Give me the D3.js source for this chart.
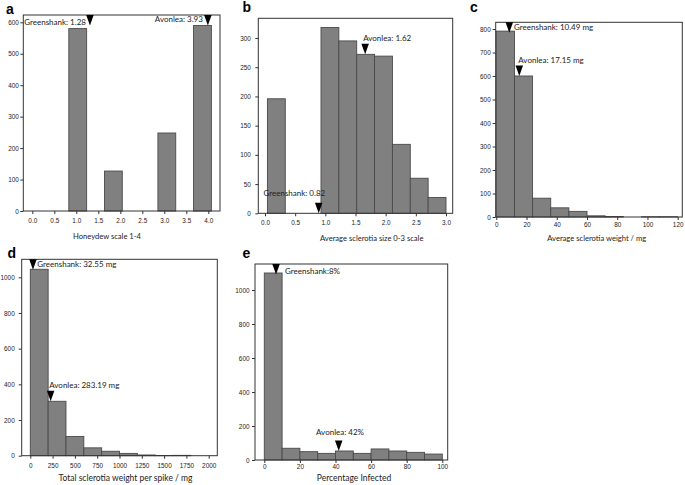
<!DOCTYPE html>
<html><head><meta charset="utf-8">
<script src="https://cdn.jsdelivr.net/npm/d3@7"></script>
<style>body{margin:0;background:#fff}</style></head>
<body>
<svg id="chart" width="685" height="485"></svg>
<script>
// ---------------- DATA ----------------
const panelLetters = ["a", "b", "c", "d", "e"];
const xTitles = [
  "Honeydew scale 1-4",
  "Average sclerotia size 0-3 scale",
  "Average sclerotia weight / mg",
  "Total sclerotia weight per spike / mg",
  "Percentage Infected"
];
// histogram bins (start of first bin, bin width) and counts
const binStarts = [0.02, 0.04, 0, 0, 0];
const binWidths = [0.405, 0.296, 12, 200, 10];
const countsA = [0, 0, 580, 0, 127, 0, 0, 248, 0, 590];
const countsB = [196, 0, 0, 318, 295, 272, 269, 118, 60, 27];
const countsC = [791, 600, 80, 39, 24, 5, 2, 0, 1, 1];
const countsD = [1045, 305, 108, 44, 25, 13, 4, 1, 2, 0];
const countsE = [1100, 69, 49, 39, 53, 39, 65, 53, 45, 35];
// ticks
const xTicksA = [0, 0.5, 1, 1.5, 2, 2.5, 3, 3.5, 4];
const xTicksB = [0, 0.5, 1, 1.5, 2, 2.5, 3];
const xTicksC = [0, 20, 40, 60, 80, 100, 120];
const xTicksD = [0, 250, 500, 750, 1000, 1250, 1500, 1750, 2000];
const xTicksE = [0, 20, 40, 60, 80, 100];
const yTicksA = [0, 100, 200, 300, 400, 500, 600];
const yTicksB = [0, 50, 100, 150, 200, 250, 300];
const yTicksC = [0, 100, 200, 300, 400, 500, 600, 700, 800];
const yTicksD = [0, 200, 400, 600, 800, 1000];
const yTicksE = [0, 200, 400, 600, 800, 1000];
// cultivar markers
const greenshankLabels = ["Greenshank: 1.28", "Greenshank: 0.82", "Greenshank: 10.49 mg", "Greenshank: 32.55 mg", "Greenshank:8%"];
const avonleaLabels = ["Avonlea: 3.93", "Avonlea: 1.62", "Avonlea: 17.15 mg", "Avonlea: 283.19 mg", "Avonlea: 42%"];
const greenshankPos = [1.31, 0.89, 8.6, 30, 6.6];
const avonleaPos = [3.99, 1.66, 15.2, 228, 41.8];

// ---------------- LAYOUT ----------------
const layouts = [
  {frame:{l:23.3,r:220,t:15,b:211}, xd:[0,4], xr:[32.3,208.3], yd:[0,600], yr:[211,22.3],
   xPad:8.5, yPad:4.5, fmt:d3.format(".1f"),
   letter:[6,13.5], title:[107,238.5,7.6],
   g:{mode:"top", anchor:"end", dx:-4, dy:10}, a:{mode:"top", anchor:"end", dx:-5, dy:6.5}},
  {frame:{l:258.3,r:452.7,t:18.3,b:213.3}, xd:[0,3], xr:[265,446], yd:[0,300], yr:[213.3,38],
   xPad:8.2, yPad:7.5, fmt:d3.format(".1f"),
   letter:[242.5,12.3], title:[371.7,240.5,7.6],
   g:{mode:"bar", anchor:"end", dx:6.5, dy:-6.5}, a:{mode:"bar", anchor:"start", dx:-2, dy:-2.5}},
  {frame:{l:495.7,r:682.3,t:22.3,b:217}, xd:[0,120], xr:[496.3,677.7], yd:[0,800], yr:[217,29],
   xPad:6, yPad:5, fmt:d3.format("d"),
   letter:[470,12.3], title:[596.7,241,7.6],
   g:{mode:"top", anchor:"start", dx:4.7, dy:8}, a:{mode:"bar", anchor:"start", dx:-1, dy:-2.5}},
  {frame:{l:21.7,r:217.3,t:259.3,b:455.7}, xd:[0,2000], xr:[30.3,208.7], yd:[0,1000], yr:[455.7,277.3],
   xPad:9, yPad:7, fmt:d3.format("d"),
   letter:[7.5,258.3], title:[125.5,481,8.5],
   g:{mode:"top", anchor:"start", dx:4.3, dy:8}, a:{mode:"bar", anchor:"start", dx:-1.4, dy:-3}},
  {frame:{l:255,r:447.7,t:264,b:460}, xd:[0,100], xr:[264.3,442.3], yd:[0,1000], yr:[460,290],
   xPad:5, yPad:5.5, fmt:d3.format("d"),
   letter:[242.5,258.3], title:[354,481,8.5],
   g:{mode:"top", anchor:"start", dx:9, dy:10}, a:{mode:"bar", anchor:"middle", dx:1.3, dy:-5.5}}
];
const allCounts = [countsA, countsB, countsC, countsD, countsE];
const allXTicks = [xTicksA, xTicksB, xTicksC, xTicksD, xTicksE];
const allYTicks = [yTicksA, yTicksB, yTicksC, yTicksD, yTicksE];

const svg = d3.select("#chart");
const tickFont = "'Liberation Sans', Arial, sans-serif";
const labelFont = "Lato, 'Open Sans', sans-serif";
const triW = 7.5, triH = 10.5;

layouts.forEach((L, i) => {
  const g = svg.append("g");
  const x = d3.scaleLinear().domain(L.xd).range(L.xr);
  const y = d3.scaleLinear().domain(L.yd).range(L.yr);
  const counts = allCounts[i];
  const bins = counts.map((c, k) => ({
    x0: binStarts[i] + k * binWidths[i],
    x1: binStarts[i] + (k + 1) * binWidths[i],
    c
  }));

  // bars
  g.selectAll("rect.bar").data(bins.filter(b => b.c > 0)).join("rect")
    .attr("class", "bar")
    .attr("x", b => x(b.x0))
    .attr("width", b => x(b.x1) - x(b.x0))
    .attr("y", b => y(b.c))
    .attr("height", b => y(0) - y(b.c))
    .attr("fill", "#808080")
    .attr("stroke", "#4a4a4a")
    .attr("stroke-width", 0.9);

  // frame
  g.append("rect")
    .attr("x", L.frame.l).attr("y", L.frame.t)
    .attr("width", L.frame.r - L.frame.l).attr("height", L.frame.b - L.frame.t)
    .attr("fill", "none").attr("stroke", "#333").attr("stroke-width", 1);

  // axes
  const xa = g.append("g").attr("transform", `translate(0,${L.frame.b})`)
    .call(d3.axisBottom(x).tickValues(allXTicks[i]).tickFormat(L.fmt).tickSize(3).tickPadding(3));
  const ya = g.append("g").attr("transform", `translate(${L.frame.l},0)`)
    .call(d3.axisLeft(y).tickValues(allYTicks[i]).tickFormat(d3.format("d")).tickSize(3).tickPadding(L.yPad - 3));
  [xa, ya].forEach(ax => {
    ax.select(".domain").remove();
    ax.selectAll(".tick line").attr("stroke", "#333");
    ax.selectAll(".tick text").attr("font-family", tickFont).attr("font-size", 6.4).attr("fill", "#222");
  });
  xa.selectAll(".tick text").attr("dy", null).attr("y", L.xPad + 3.5);

  // panel letter
  svg.append("text").attr("x", L.letter[0]).attr("y", L.letter[1])
    .attr("font-family", "'Liberation Sans', Arial, sans-serif")
    .attr("font-weight", "bold").attr("font-size", 14).text(panelLetters[i]);

  // x title
  svg.append("text").attr("x", L.title[0]).attr("y", L.title[1])
    .attr("text-anchor", "middle").attr("font-family", labelFont)
    .attr("font-size", L.title[2]).attr("fill", "#222").text(xTitles[i]);

  // markers
  const markers = [
    {pos: greenshankPos[i], label: greenshankLabels[i], cfg: L.g},
    {pos: avonleaPos[i], label: avonleaLabels[i], cfg: L.a}
  ];
  markers.forEach(m => {
    const cx = x(m.pos);
    let tipY;
    if (m.cfg.mode === "top") {
      tipY = L.frame.t + triH;
    } else {
      const bin = bins.find(b => m.pos >= b.x0 && m.pos < b.x1);
      tipY = y(bin ? bin.c : 0);
    }
    const topY = tipY - triH;
    g.append("path")
      .attr("d", `M${cx - triW / 2},${topY}L${cx + triW / 2},${topY}L${cx},${tipY}Z`)
      .attr("fill", "#000");
    g.append("text")
      .attr("x", cx + m.cfg.dx).attr("y", topY + m.cfg.dy)
      .attr("text-anchor", m.cfg.anchor)
      .attr("font-family", labelFont).attr("font-size", 8)
      .attr("fill", "#222").text(m.label);
  });
});
</script>
</body></html>
